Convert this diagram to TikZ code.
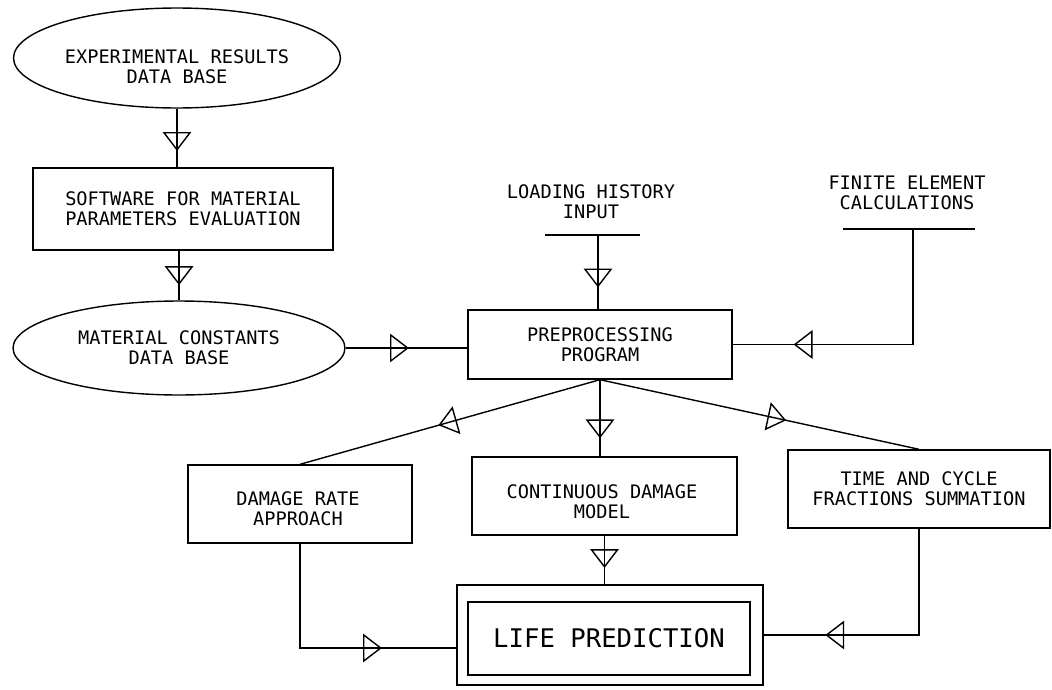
\documentclass[tikz,border=0pt]{standalone}
\usepackage{fontspec}
\setmonofont{DejaVu Sans Mono}
\usetikzlibrary{shapes.geometric,decorations.markings}
\newcommand\mfont{\ttfamily\fontsize{10.6}{11.4}\selectfont}
\newcommand\bigfnt{\ttfamily\fontsize{14.6}{16}\selectfont}
\tikzset{
  box/.style={draw, line width=0.8pt, rectangle, inner sep=0pt, align=center, font=\mfont},
  oval/.style={draw, line width=0.8pt, ellipse, inner sep=0pt, align=center, font=\mfont},
  lbl/.style={inner sep=0pt, align=center, font=\mfont},
  conn/.style={line width=0.8pt},
  tri/.style={postaction={decorate,decoration={markings,mark=at position #1 with {\draw[line width=0.8pt] (0,0) -- (-0.34cm,0.26cm) -- (-0.34cm,-0.26cm) -- cycle;}}}}
}
\begin{document}
\begin{tikzpicture}[x=0.02cm,y=-0.02cm]
\useasboundingbox (0,0) rectangle (1052,690);
% nodes
\node[oval, minimum width=6.54cm, minimum height=2.0cm] (E1) at (177,58) {};
\node[lbl] (E1t) at (177,67) {EXPERIMENTAL RESULTS\\DATA BASE};
\node[box, minimum width=6.0cm, minimum height=1.64cm] (S) at (183,209) {SOFTWARE FOR MATERIAL\\PARAMETERS EVALUATION};
\node[oval, minimum width=6.64cm, minimum height=1.88cm] (E2) at (179,348) {MATERIAL CONSTANTS\\DATA BASE};
\node[box, minimum width=5.28cm, minimum height=1.38cm] (P) at (600,344.5) {PREPROCESSING\\PROGRAM};
\node[lbl] (LH) at (591,202) {LOADING HISTORY\\INPUT};
\node[lbl] (FE) at (907,193) {FINITE ELEMENT\\CALCULATIONS};
\node[box, minimum width=4.48cm, minimum height=1.56cm] (D) at (300,504) {};
\node[lbl] (Dt) at (298,509) {DAMAGE RATE\\APPROACH};
\node[box, minimum width=5.3cm, minimum height=1.56cm] (C) at (604.5,496) {};
\node[lbl] (Ct) at (602,502) {CONTINUOUS DAMAGE\\MODEL};
\node[box, minimum width=5.24cm, minimum height=1.56cm] (T) at (919,489) {TIME AND CYCLE\\FRACTIONS SUMMATION};
\node[box, minimum width=6.12cm, minimum height=2.0cm] (L) at (610,635) {};
\node[box, minimum width=5.64cm, minimum height=1.46cm, font=\bigfnt] (Li) at (609,638.5) {LIFE PREDICTION};
% input bars
\coordinate (lhl) at (545,235);
\coordinate (lhr) at (640,235);
\coordinate (lhm) at (598,235);
\coordinate (fel) at (843,229);
\coordinate (fer) at (975,229);
\coordinate (fem) at (913,229);
\draw[conn] (lhl) -- (lhr);
\draw[conn] (fel) -- (fer);
% connectors
\draw[conn, tri=0.7] (E1.south) -- (E1.south |- S.north);
\draw[conn, tri=0.67] (S.south -| E2.south) -- (E2.north);
\draw[conn, tri=0.51] (E2.east) -- (E2.east -| P.west);
\draw[conn, tri=0.69] (lhm) -- (lhm |- P.north);
\draw[conn, tri=0.79] (fem) |- (P.east);
\draw[conn, tri=0.535] (P.south) -- (D.north);
\draw[conn, tri=0.75] (P.south) -- (P.south |- C.north);
\draw[conn, tri=0.58] (P.south) -- (T.north);
\draw[conn, tri=0.64] (C.south) -- (C.south |- L.north);
\draw[conn, tri=0.71] (D.south) |- ([yshift=-0.26cm]L.west);
\draw[conn, tri=0.76] (T.south) |- (L.east);
\end{tikzpicture}
\end{document}
